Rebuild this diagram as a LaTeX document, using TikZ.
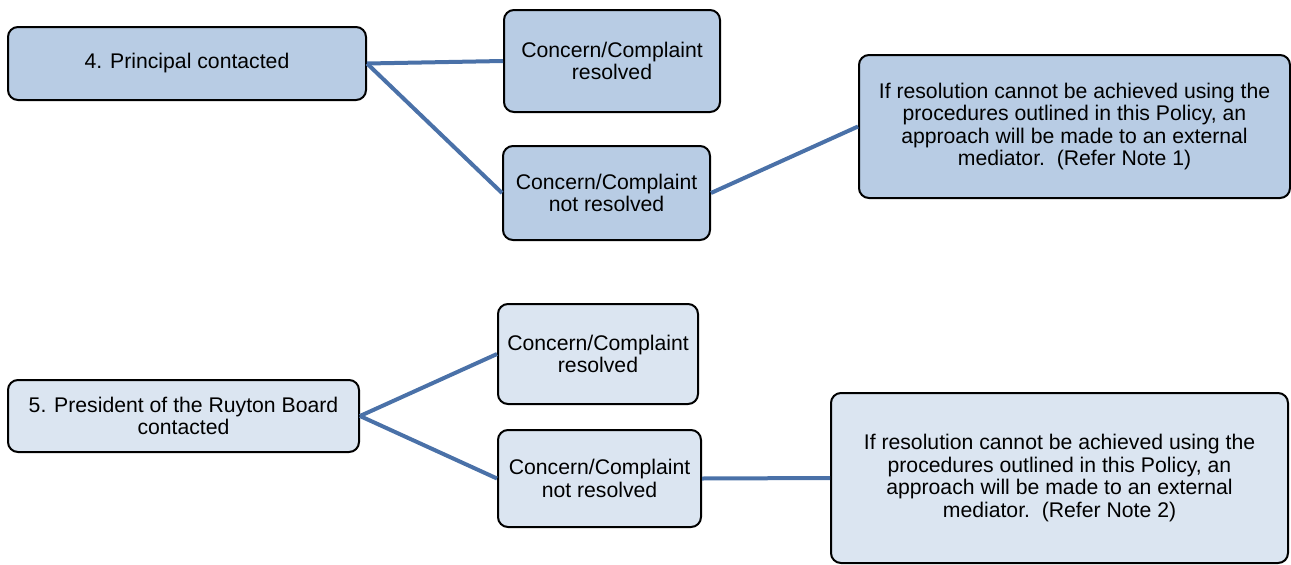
\documentclass[tikz,border=0pt]{standalone}
\usepackage{fontspec}
\setmainfont{Liberation Sans}
\definecolor{boxdark}{HTML}{B8CCE4}
\definecolor{boxlight}{HTML}{DBE5F1}
\definecolor{linkblue}{HTML}{4A71A8}

\begin{document}
\begin{tikzpicture}[x=1pt,y=-1pt,
	box/.style={draw=black,line width=2pt,rounded corners=10pt,align=center,inner sep=0pt,font=\fontsize{21.2}{22.5}\selectfont},
	darkbox/.style={box,fill=boxdark},
	lightbox/.style={box,fill=boxlight},
	link/.style={draw=linkblue,line width=4pt}]
	\useasboundingbox (0,0) rectangle (1291,565);
	% step 4
	\node (principal) [darkbox,minimum width=358pt,minimum height=73pt] at (187,63.5) {4. Principal contacted};
	\node (res4) [darkbox,minimum width=216pt,minimum height=102pt] at (612,61) {Concern/Complaint\\resolved};
	\node (notres4) [darkbox,minimum width=207pt,minimum height=94pt] at (606.5,193) {Concern/Complaint\\not resolved};
	\node (note1) [darkbox,minimum width=431pt,minimum height=143pt] at (1074.5,126.5) {If resolution cannot be achieved using the\\procedures outlined in this Policy, an\\approach will be made to an external\\mediator.\ \ (Refer Note 1)};
	\draw[link] (principal.east) -- (res4.west);
	\draw[link] (principal.east) -- (notres4.west);
	\draw[link] (notres4.east) -- (note1.west);
	% step 5
	\node (president) [lightbox,minimum width=351pt,minimum height=72pt] at (183.5,416) {5. President of the Ruyton Board\\contacted};
	\node (res5) [lightbox,minimum width=200pt,minimum height=100pt] at (598,354) {Concern/Complaint\\resolved};
	\node (notres5) [lightbox,minimum width=203pt,minimum height=97pt] at (599.5,478.5) {Concern/Complaint\\not resolved};
	\node (note2) [lightbox,minimum width=457pt,minimum height=170pt] at (1059.5,478) {If resolution cannot be achieved using the\\procedures outlined in this Policy, an\\approach will be made to an external\\mediator.\ \ (Refer Note 2)};
	\draw[link] (president.east) -- (res5.west);
	\draw[link] (president.east) -- (notres5.west);
	\draw[link] (notres5.east) -- (note2.west);
\end{tikzpicture}
\end{document}
